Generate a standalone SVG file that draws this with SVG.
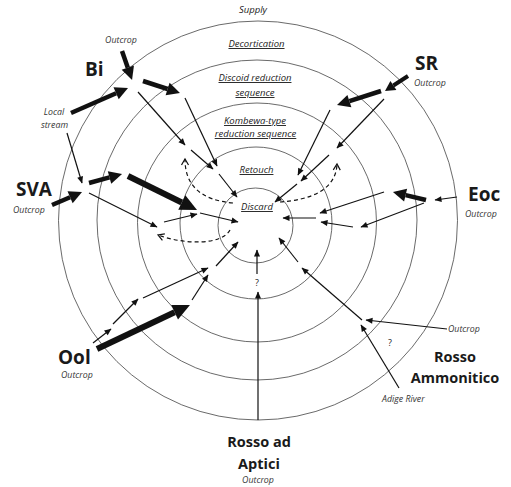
<svg xmlns="http://www.w3.org/2000/svg" width="511" height="487" viewBox="0 0 511 487">
<style>
.ring{fill:none;stroke:#444;stroke-width:0.8}
.lab{font-family:"Open Sans",sans-serif;font-style:italic;font-size:9.5px;fill:#222;text-anchor:middle}
.u{text-decoration:underline}
.sm{font-family:"Open Sans",sans-serif;font-style:italic;font-size:8.8px;fill:#333}
.big{font-family:"Open Sans",sans-serif;font-weight:bold;font-size:19px;fill:#1a1a1a}
.mid{font-family:"Open Sans",sans-serif;font-weight:bold;font-size:14.5px;fill:#1a1a1a;text-anchor:middle}
.q{font-family:"Open Sans",sans-serif;font-size:9px;fill:#222;text-anchor:middle}
.thin{stroke:#111;stroke-width:1.2;fill:none;marker-end:url(#ht)}
.thick{stroke:#111;stroke-width:4.5;fill:none;marker-end:url(#hT)}
.thk2{stroke:#111;stroke-width:4;fill:none;marker-end:url(#hS)}
.vthick{stroke:#111;stroke-width:6;fill:none;marker-end:url(#hV)}
.dash{stroke:#111;stroke-width:1.2;fill:none;stroke-dasharray:4,3;marker-end:url(#hc)}
</style>
<defs>
<marker id="ht" markerUnits="userSpaceOnUse" markerWidth="8" markerHeight="6" refX="6.5" refY="3" orient="auto" overflow="visible"><path d="M0,0 L7,3 L0,6 z" fill="#111"/></marker>
<marker id="hT" markerUnits="userSpaceOnUse" markerWidth="14" markerHeight="13" refX="0" refY="6.5" orient="auto" overflow="visible"><path d="M0,0 L13,6.5 L0,13 z" fill="#111"/></marker>
<marker id="hS" markerUnits="userSpaceOnUse" markerWidth="11" markerHeight="11" refX="0" refY="5.5" orient="auto" overflow="visible"><path d="M0,0 L10,5.5 L0,11 z" fill="#111"/></marker>
<marker id="hV" markerUnits="userSpaceOnUse" markerWidth="18" markerHeight="16" refX="0" refY="8" orient="auto" overflow="visible"><path d="M0,0 L17,8 L0,16 z" fill="#111"/></marker>
<marker id="hc" markerUnits="userSpaceOnUse" markerWidth="8" markerHeight="8" refX="6" refY="3.5" orient="auto" overflow="visible"><path d="M0,0 L6,3.5 L0,7" fill="none" stroke="#111" stroke-width="1.2"/></marker>
</defs>

<g id="rings">
<circle class="ring" cx="258" cy="220.5" r="199.5"/>
<circle class="ring" cx="257" cy="220" r="160"/>
<circle class="ring" cx="257" cy="222.5" r="119.5"/>
<circle class="ring" cx="256" cy="223" r="76"/>
<circle class="ring" cx="255.5" cy="225.5" r="37.5"/>
</g>

<g id="ring-labels">
<text class="lab" x="253" y="13">Supply</text>
<text class="lab u" x="256.5" y="47">Decortication</text>
<text class="lab u" x="255" y="81">Discoid reduction</text>
<text class="lab u" x="255" y="96">sequence</text>
<text class="lab u" x="255" y="124">Kombewa-type</text>
<text class="lab u" x="255.5" y="137">reduction sequence</text>
<text class="lab u" x="256.5" y="173">Retouch</text>
<text class="lab u" x="257" y="210">Discard</text>
</g>

<g id="node-Bi">
<text class="big" x="85" y="76">Bi</text>
<text class="sm" x="121" y="43" text-anchor="middle">Outcrop</text>
<text class="sm" x="54" y="115" text-anchor="middle">Local</text>
<text class="sm" x="54.5" y="128" text-anchor="middle">stream</text>
</g>
<g id="node-SR">
<text class="big" x="415" y="70">SR</text>
<text class="sm" x="414" y="86">Outcrop</text>
</g>
<g id="node-SVA">
<text class="big" x="16" y="196">SVA</text>
<text class="sm" x="13" y="213">Outcrop</text>
</g>
<g id="node-Eoc">
<text class="big" x="468" y="201">Eoc</text>
<text class="sm" x="465" y="217">Outcrop</text>
</g>
<g id="node-Ool">
<text class="big" x="58" y="364">Ool</text>
<text class="sm" x="61" y="378">Outcrop</text>
</g>
<g id="node-RossoAptici">
<text class="mid" x="259" y="447">Rosso ad</text>
<text class="mid" x="259" y="469">Aptici</text>
<text class="sm" x="258" y="483" text-anchor="middle">Outcrop</text>
<text class="q" x="257" y="286">?</text>
</g>
<g id="node-RossoAmmonitico">
<text class="mid" x="455" y="362">Rosso</text>
<text class="mid" x="455" y="383">Ammonitico</text>
<text class="sm" x="448" y="332">Outcrop</text>
<text class="sm" x="382" y="402">Adige River</text>
<text class="q" x="390" y="346">?</text>
</g>

<g id="connectors">
<!-- Bi -->
<line class="thick" x1="122" y1="51" x2="127.8" y2="67.7"/>
<line class="thick" x1="71" y1="113" x2="116.1" y2="93.2"/>
<line class="thick" x1="143" y1="81" x2="167.6" y2="89"/>
<line class="thin" x1="138" y1="92" x2="185" y2="145"/>
<line class="thin" x1="185" y1="98" x2="217" y2="166"/>
<line class="thin" x1="191" y1="150" x2="213" y2="169"/>
<line class="thin" x1="219" y1="174" x2="237" y2="197"/>
<!-- SR -->
<line class="thk2" x1="408" y1="76" x2="393.4" y2="85.5"/>
<line class="thick" x1="381" y1="91" x2="349.4" y2="101.1"/>
<line class="thin" x1="330" y1="110" x2="298" y2="175"/>
<line class="thin" x1="384" y1="99" x2="337" y2="148"/>
<line class="thin" x1="329" y1="155" x2="301" y2="181"/>
<line class="thin" x1="297" y1="184" x2="275" y2="202"/>
<!-- Eoc -->
<line class="thin" x1="457" y1="197" x2="435" y2="200"/>
<line class="thick" x1="426" y1="200" x2="405.6" y2="195.1"/>
<line class="thin" x1="384" y1="192" x2="320" y2="213"/>
<line class="thin" x1="424" y1="203" x2="361" y2="227"/>
<line class="thin" x1="353" y1="227" x2="321" y2="222"/>
<line class="thin" x1="316" y1="218" x2="283" y2="218"/>
<!-- Rosso Ammonitico -->
<line class="thin" x1="447" y1="329" x2="366" y2="320"/>
<line class="thin" x1="399" y1="388" x2="361" y2="325"/>
<line class="thin" x1="362" y1="320" x2="302" y2="268"/>
<line class="thin" x1="298" y1="262" x2="279" y2="238"/>
<!-- Rosso ad Aptici -->
<line class="thin" x1="258" y1="420" x2="258" y2="292"/>
<line class="thin" x1="257" y1="274" x2="257" y2="250"/>
<!-- Ool -->
<line class="vthick" x1="97" y1="349" x2="174.6" y2="312.3"/>
<line class="thin" x1="93" y1="343" x2="111" y2="329"/>
<line class="thin" x1="113" y1="324" x2="138" y2="299"/>
<line class="thin" x1="143" y1="298" x2="208" y2="268"/>
<line class="thin" x1="216" y1="266" x2="238" y2="242"/>
<line class="thin" x1="192" y1="300" x2="208" y2="275"/>
<!-- SVA -->
<line class="thin" x1="67" y1="133" x2="82" y2="183"/>
<line class="thick" x1="52" y1="205" x2="70.1" y2="197.2"/>
<line class="thick" x1="89" y1="183" x2="109.5" y2="177.4"/>
<line class="vthick" x1="128" y1="176" x2="181.8" y2="202.5"/>
<line class="thin" x1="89" y1="193" x2="157" y2="227"/>
<line class="thin" x1="164" y1="222" x2="197" y2="214"/>
<line class="thin" x1="200" y1="213" x2="238" y2="222"/>
<!-- dashed returns -->
<path class="dash" d="M233,203 C200,200 185,185 185,159"/>
<path class="dash" d="M280,202 C310,200 336,190 337,164"/>
<path class="dash" d="M230,230 C222,245 185,245 158,235"/>
</g>
</svg>
